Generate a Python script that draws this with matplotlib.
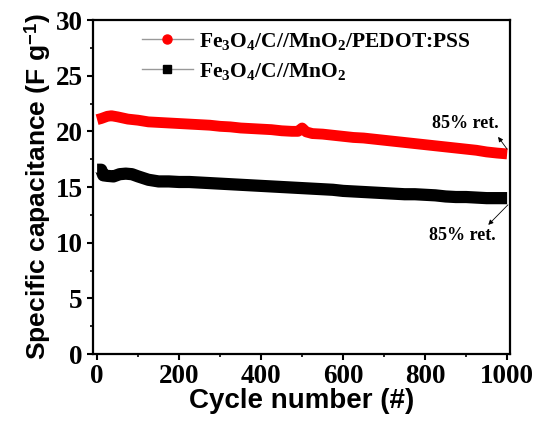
import matplotlib
matplotlib.use("Agg")
import matplotlib.pyplot as plt
from matplotlib.lines import Line2D
from matplotlib.ticker import MultipleLocator

# ---- data ----
red_cycles = [0, 10, 25, 35, 50, 75, 100, 125, 150, 175, 200, 225, 250, 275, 300, 325, 350, 375,
              400, 425, 450, 475, 490, 500, 510, 525, 550, 575, 600, 625, 650, 675, 700, 725, 750,
              775, 800, 825, 850, 875, 900, 925, 950, 975, 1000]
red_values = [21.05, 21.15, 21.35, 21.4, 21.3, 21.1, 21.0, 20.85, 20.8, 20.75, 20.7, 20.65, 20.6,
              20.55, 20.45, 20.4, 20.3, 20.25, 20.2, 20.15, 20.05, 20.0, 20.0, 20.3, 19.95, 19.8,
              19.75, 19.65, 19.55, 19.45, 19.4, 19.3, 19.2, 19.1, 19.0, 18.9, 18.8, 18.7, 18.6,
              18.5, 18.4, 18.3, 18.15, 18.05, 17.97]

black_cycles = [0, 10, 15, 25, 40, 55, 70, 85, 100, 125, 150, 175, 200, 225, 250, 275, 300, 325,
                350, 375, 400, 425, 450, 475, 500, 525, 550, 575, 600, 625, 650, 675, 700, 725,
                750, 775, 800, 825, 850, 875, 900, 925, 950, 975, 1000]
black_values = [16.55, 16.55, 16.05, 16.0, 15.95, 16.15, 16.2, 16.15, 15.95, 15.65, 15.5, 15.5,
                15.45, 15.45, 15.4, 15.35, 15.3, 15.25, 15.2, 15.15, 15.1, 15.05, 15.0, 14.95,
                14.9, 14.85, 14.8, 14.75, 14.65, 14.6, 14.55, 14.5, 14.45, 14.4, 14.35, 14.35,
                14.3, 14.25, 14.15, 14.1, 14.1, 14.05, 14.0, 14.0, 14.0]

red_label = r"Fe$_\mathregular{3}$O$_\mathregular{4}$/C//MnO$_\mathregular{2}$/PEDOT:PSS"
black_label = r"Fe$_\mathregular{3}$O$_\mathregular{4}$/C//MnO$_\mathregular{2}$"
x_ticks = [0, 200, 400, 600, 800, 1000]
y_ticks = [0, 5, 10, 15, 20, 25, 30]
annot_text = "85% ret."

serif = "Liberation Serif"
sans = "Liberation Sans"
plt.rcParams["mathtext.fontset"] = "custom"
plt.rcParams["mathtext.rm"] = "Liberation Serif:bold"
plt.rcParams["mathtext.it"] = "Liberation Serif:bold"
plt.rcParams["mathtext.bf"] = "Liberation Serif:bold"

fig = plt.figure(figsize=(5.35, 4.29), dpi=100)
ax = fig.add_axes([93 / 535, 1 - 354 / 429, (510 - 93) / 535, (354 - 20) / 429])

ax.plot(black_cycles, black_values, color="black", lw=8.8, solid_capstyle="butt",
        solid_joinstyle="round")
ax.plot(red_cycles, red_values, color="#ff0000", lw=7.8, solid_capstyle="butt",
        solid_joinstyle="round")

ax.set_xlim(-10, 1007)
ax.set_ylim(0, 30)
ax.set_xticks(x_ticks)
ax.set_yticks(y_ticks)
ax.xaxis.set_minor_locator(MultipleLocator(100))
ax.yaxis.set_minor_locator(MultipleLocator(2.5))

ax.tick_params(which="major", direction="out", length=4.5, width=1.5, pad=3,
               top=False, right=False)
ax.tick_params(which="minor", direction="out", length=2.5, width=1.2, top=False, right=False)
for lab in ax.get_xticklabels() + ax.get_yticklabels():
    lab.set_fontfamily(serif)
    lab.set_fontweight("bold")
    lab.set_fontsize(19.5)
for sp in ax.spines.values():
    sp.set_linewidth(1.6)

ax.set_xlabel("Cycle number (#)", fontfamily=sans, fontweight="bold", fontsize=20, labelpad=-1)
ax.set_ylabel(r"Specific capacitance (F g$^{\mathregular{-1}}$)", fontfamily=sans,
              fontweight="bold", fontsize=19, labelpad=2)

handles = [
    Line2D([], [], color="#999999", marker="o", ms=6.5, lw=1.0, markerfacecolor="#ff0000",
           markeredgecolor="#ff0000"),
    Line2D([], [], color="#999999", marker="s", ms=5.5, lw=1.0, markerfacecolor="black",
           markeredgecolor="black"),
]
leg = ax.legend(handles, [red_label, black_label], loc="upper left",
                bbox_to_anchor=(0.07, 1.025), frameon=False, handlelength=2.4,
                handletextpad=0.25, labelspacing=0.4,
                prop={"family": serif, "weight": "bold", "size": 15.5})

# annotation texts
ax.text(898, 20.66, annot_text, ha="center", va="center", fontfamily=serif,
        fontweight="bold", fontsize=13)
ax.text(890, 10.6, annot_text, ha="center", va="center", fontfamily=serif,
        fontweight="bold", fontsize=13)
# arrows from the line ends toward the texts
ax.annotate("", xy=(978, 19.5), xytext=(1000, 18.4),
            arrowprops=dict(arrowstyle="-|>", color="black", lw=0.6, shrinkA=0, shrinkB=0,
                            mutation_scale=7))
ax.annotate("", xy=(954, 11.6), xytext=(1002, 13.4),
            arrowprops=dict(arrowstyle="-|>", color="black", lw=0.6, shrinkA=0, shrinkB=0,
                            mutation_scale=7))

fig.savefig("out.png", dpi=100)
